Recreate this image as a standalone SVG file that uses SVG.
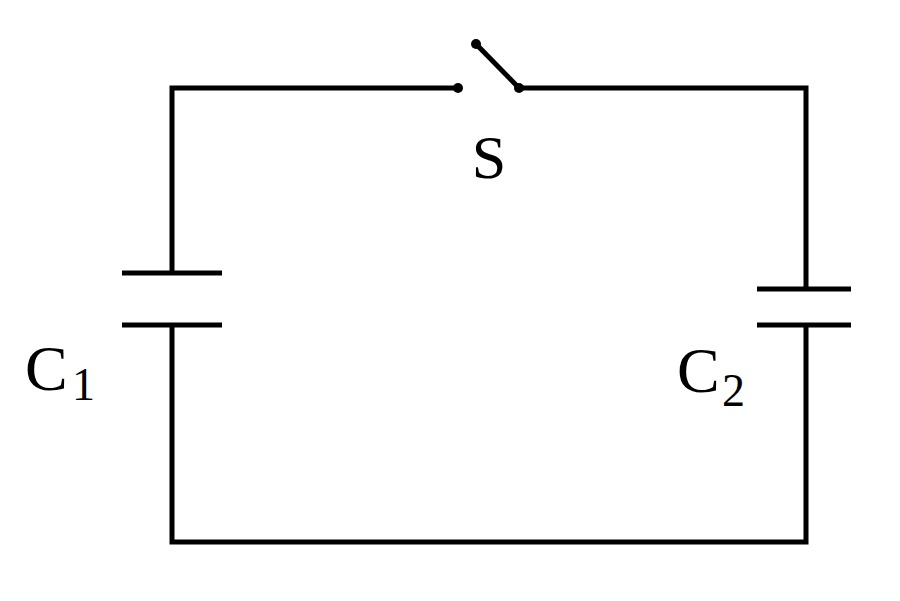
<svg xmlns="http://www.w3.org/2000/svg" width="900" height="601" viewBox="0 0 900 601">
<style>
.w{stroke:#000;stroke-width:5;fill:none;stroke-linecap:butt}
.t{font-family:"Liberation Serif",serif;fill:#000}
</style>
<rect width="900" height="601" fill="#fff"/>
<g id="connectors">
<polyline class="w" points="458,88 172,88 172,272"/>
<polyline class="w" points="172,325 172,542 806,542 806,325"/>
<polyline class="w" points="806,289 806,88 519,88"/>
</g>
<g id="S">
<line class="w" x1="476" y1="44" x2="519" y2="88" stroke-width="4"/>
<circle cx="458" cy="88" r="5"/><circle cx="476" cy="44" r="5"/><circle cx="519" cy="88" r="5"/>
<text class="t" x="489" y="178" font-size="62" text-anchor="middle">S</text>
</g>
<g id="C1">
<line class="w" x1="122" y1="273" x2="222" y2="273"/>
<line class="w" x1="122" y1="325" x2="222" y2="325"/>
<text class="t" x="25" y="390" font-size="64">C</text>
<text class="t" x="72" y="400" font-size="46">1</text>
</g>
<g id="C2">
<line class="w" x1="757" y1="289" x2="851" y2="289"/>
<line class="w" x1="757" y1="325" x2="851" y2="325"/>
<text class="t" x="677" y="392" font-size="64">C</text>
<text class="t" x="722" y="406" font-size="46">2</text>
</g>
</svg>
